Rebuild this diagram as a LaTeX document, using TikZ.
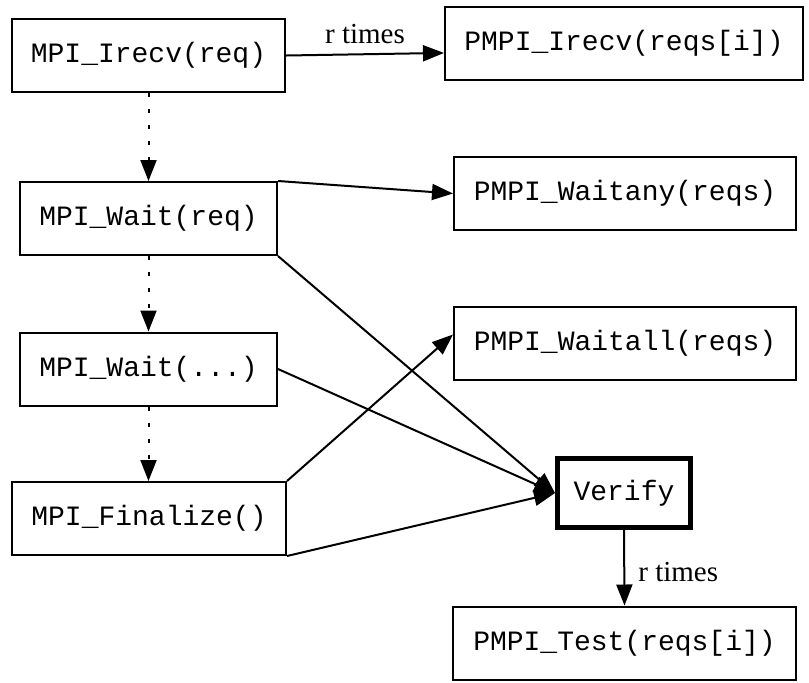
\documentclass[tikz,border=0pt]{standalone}
\usepackage{fontspec}
\setmainfont{Liberation Serif}
\setmonofont{Liberation Mono}
\usetikzlibrary{arrows.meta}

\tikzset{
  callbox/.style={draw, line width=1pt, minimum height=36.5pt, inner sep=0pt,
    font=\ttfamily\fontsize{14}{16}\selectfont},
  flow/.style={line width=1pt, -{Triangle[length=10.5pt,width=8pt]}},
  seq/.style={flow, dash pattern=on 2pt off 6pt},
  lbl/.style={inner sep=0pt, font=\fontsize{14.5}{16}\selectfont}
}

\begin{document}
\begin{tikzpicture}[x=0.5pt,y=0.5pt,yscale=-1,xscale=1]
\useasboundingbox (0,0) rectangle (809,682);

% Text Node
\node [callbox, minimum width=136.5pt] (irecv) at (148.5,55.5) {MPI\_Irecv(req)};
% Text Node
\node [callbox, minimum width=179pt] (pirecv) at (624,43.5) {PMPI\_Irecv(reqs[i])};
% Text Node
\node [callbox, minimum width=128.5pt] (wreq) at (148.5,218.5) {MPI\_Wait(req)};
% Text Node
\node [callbox, minimum width=171pt] (pany) at (625,193.5) {PMPI\_Waitany(reqs)};
% Text Node
\node [callbox, minimum width=128.5pt] (wdots) at (148.5,369) {MPI\_Wait(...)};
% Text Node
\node [callbox, minimum width=171pt] (pall) at (625,343.5) {PMPI\_Waitall(reqs)};
% Text Node
\node [callbox, minimum width=137pt] (fin) at (149,518.5) {MPI\_Finalize()};
% Text Node
\node [callbox, line width=2.5pt, minimum width=66.5pt, minimum height=34.5pt] (verify) at (624,493) {Verify};
% Text Node
\node [callbox, minimum width=171.5pt] (ptest) at (624.5,643) {PMPI\_Test(reqs[i])};

% Edges
\draw [flow] (irecv.east) -- (pirecv.183) node [lbl, midway, anchor=base, yshift=5.5pt] {r times};
\draw [seq] (irecv.south) -- (wreq.north);
\draw [seq] (wreq.south) -- (wdots.north);
\draw [seq] (wdots.south) -- (wdots.south |- fin.north);
\draw [flow] (wreq.north east) -- (pany.west);
\draw [flow] (wreq.south east) -- (verify.west);
\draw [flow] (wdots.east) -- (verify.west);
\draw [flow] (fin.north east) -- (pall.177);
\draw [flow] (fin.south east) -- (verify.west);
\draw [flow] (verify.south) -- (ptest.north) node [lbl, pos=0.68, anchor=base west, xshift=6.5pt] {r times};

\end{tikzpicture}
\end{document}
